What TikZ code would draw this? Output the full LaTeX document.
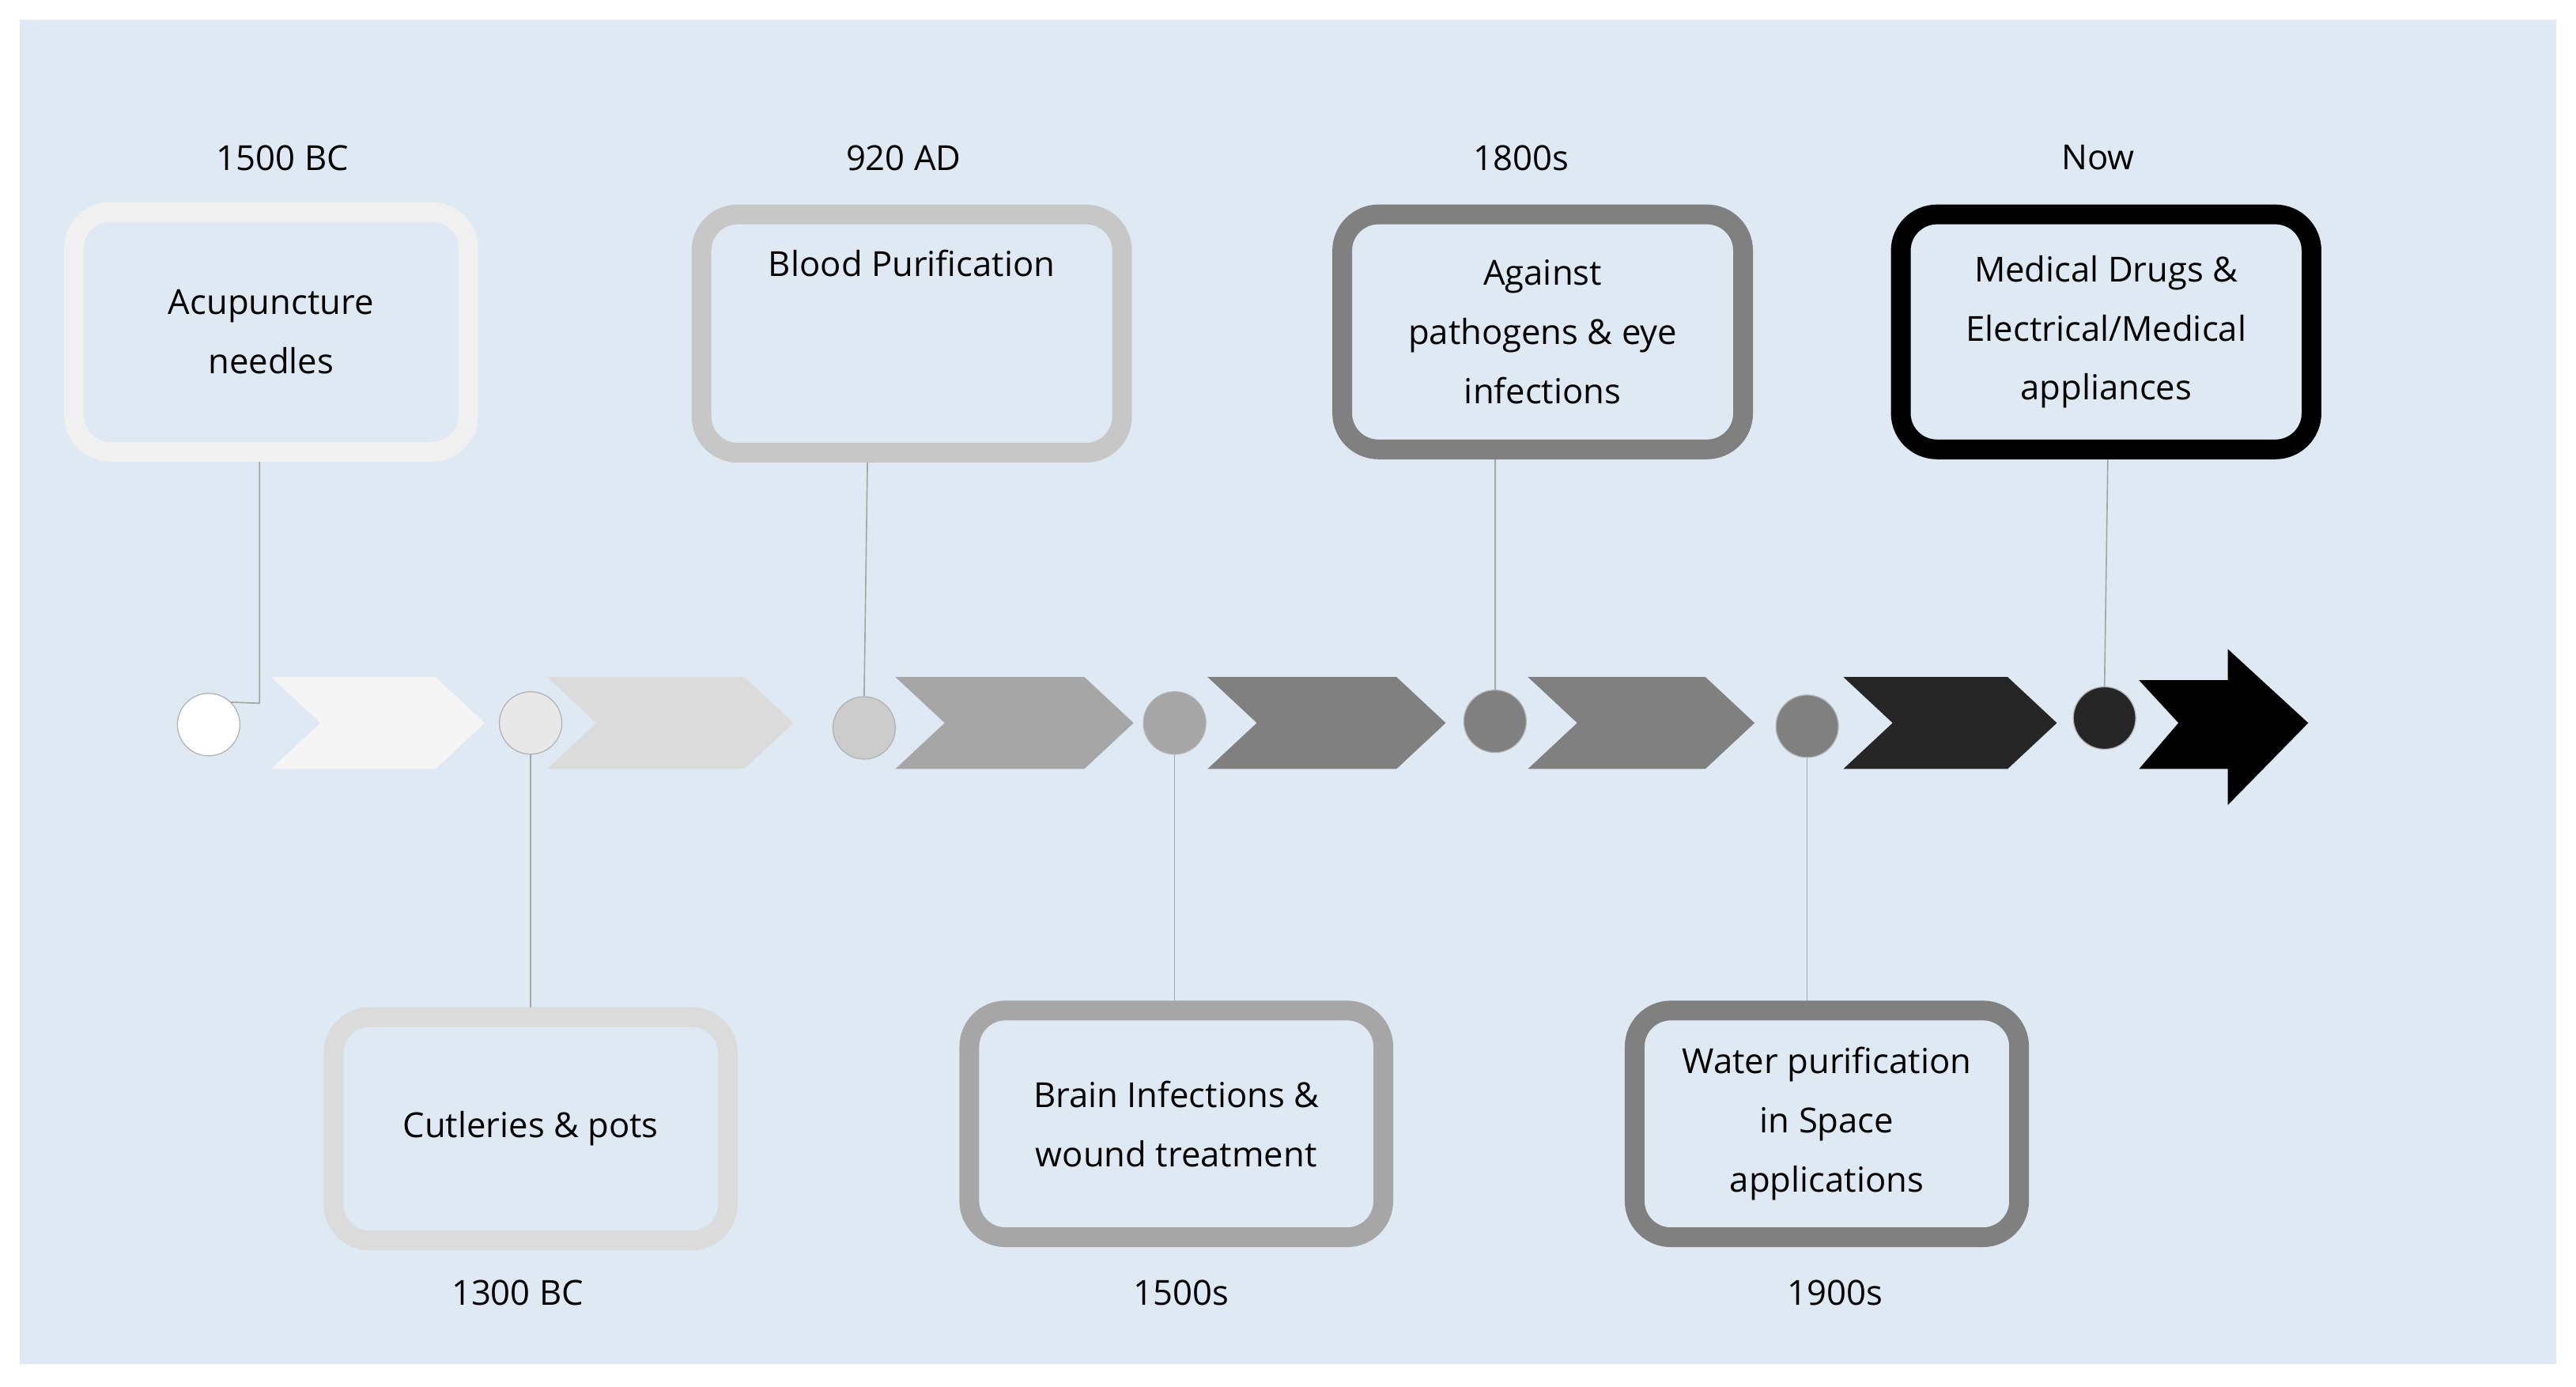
\documentclass[tikz,border=0pt]{standalone}
\usepackage{fontspec}
\setmainfont{Open Sans}
\begin{document}
\begin{tikzpicture}[x=1pt,y=-1pt,
  box/.style={draw=#1,line width=12pt,rounded corners=22pt,fill=bgc,align=center,
    font=\fontsize{21}{36}\selectfont,inner sep=0pt},
  dot/.style={circle,fill=#1,draw=gray!60,line width=0.6pt,minimum size=38pt,inner sep=0pt},
  lab/.style={font=\fontsize{21}{25}\selectfont},
  con/.style={draw=gray!70,line width=0.8pt}]
\definecolor{bgc}{HTML}{DEE9F4}
\useasboundingbox (0,0) rectangle (1568,844);
\fill[white] (0,0) rectangle (1568,844);
\fill[bgc] (12,12) rectangle (1556,830);
% boxes
\node[box=black!6,minimum width=240pt,minimum height=146pt] (b1) at (165,202) {Acupuncture\\needles};
\node[box=black!22,minimum width=256pt,minimum height=145pt] (b2) at (555,203) {Blood Purification\\[50pt]};
\node[box=black!50,minimum width=244pt,minimum height=143pt] (b3) at (939,202) {Against\\pathogens \& eye\\infections};
\node[box=black,minimum width=250pt,minimum height=143pt] (b4) at (1282,202) {Medical Drugs \&\\Electrical/Medical\\appliances};
\node[box=black!14,minimum width=240pt,minimum height=136pt] (b5) at (323,687) {Cutleries \& pots};
\node[box=black!35,minimum width=252pt,minimum height=138pt] (b6) at (716,684) {Brain Infections \&\\wound treatment};
\node[box=black!50,minimum width=234pt,minimum height=138pt] (b7) at (1112,684) {Water purification\\in Space\\applications};
% labels
\node[lab] (l1) at (172,96) {1500 BC};
\node[lab] (l2) at (550,96) {920 AD};
\node[lab] (l3) at (926,96) {1800s};
\node[lab] (l4) at (1277,96) {Now};
\node[lab] (l5) at (315,787) {1300 BC};
\node[lab] (l6) at (719,787) {1500s};
\node[lab] (l7) at (1117,787) {1900s};
% chevrons
\foreach \a/\b/\c in {165/295/black!4,333/483/black!14,545/690/black!35,735/880/black!50,930/1068/black!50,1122/1252/black!85}{
  \fill[\c] (\a,412) -- (\b-30,412) -- (\b,440) -- (\b-30,468) -- (\a,468) -- (\a+30,440) -- cycle;}
\fill[black] (1302,414) -- (1356,414) -- (1356,395) -- (1405,440) -- (1356,490) -- (1356,468) -- (1302,468) -- (1326,440) -- cycle;
% dots
\node[dot=white] (d1) at (127,441) {};
\node[dot=black!9] (d2) at (323,440) {};
\node[dot=black!20] (d3) at (526,443) {};
\node[dot=black!35] (d4) at (715,440) {};
\node[dot=black!50] (d5) at (910,439) {};
\node[dot=black!50] (d6) at (1100,442) {};
\node[dot=black!85] (d7) at (1281,437) {};
% connectors
\coordinate (k1) at (158,428);
\draw[con] (b1.south -| k1) -- (k1) -- (d1.north east);
\draw[con] (b2.south -| 528,0) -- (d3.north);
\draw[con] (b3.south -| 910,0) -- (d5.north);
\draw[con] (b4.south -| 1283,0) -- (d7.north);
\draw[con] (d2.south) -- (b5.north -| d2);
\draw[con] (d4.south) -- (b6.north -| d4);
\draw[con] (d6.south) -- (b7.north -| d6);
\end{tikzpicture}
\end{document}
